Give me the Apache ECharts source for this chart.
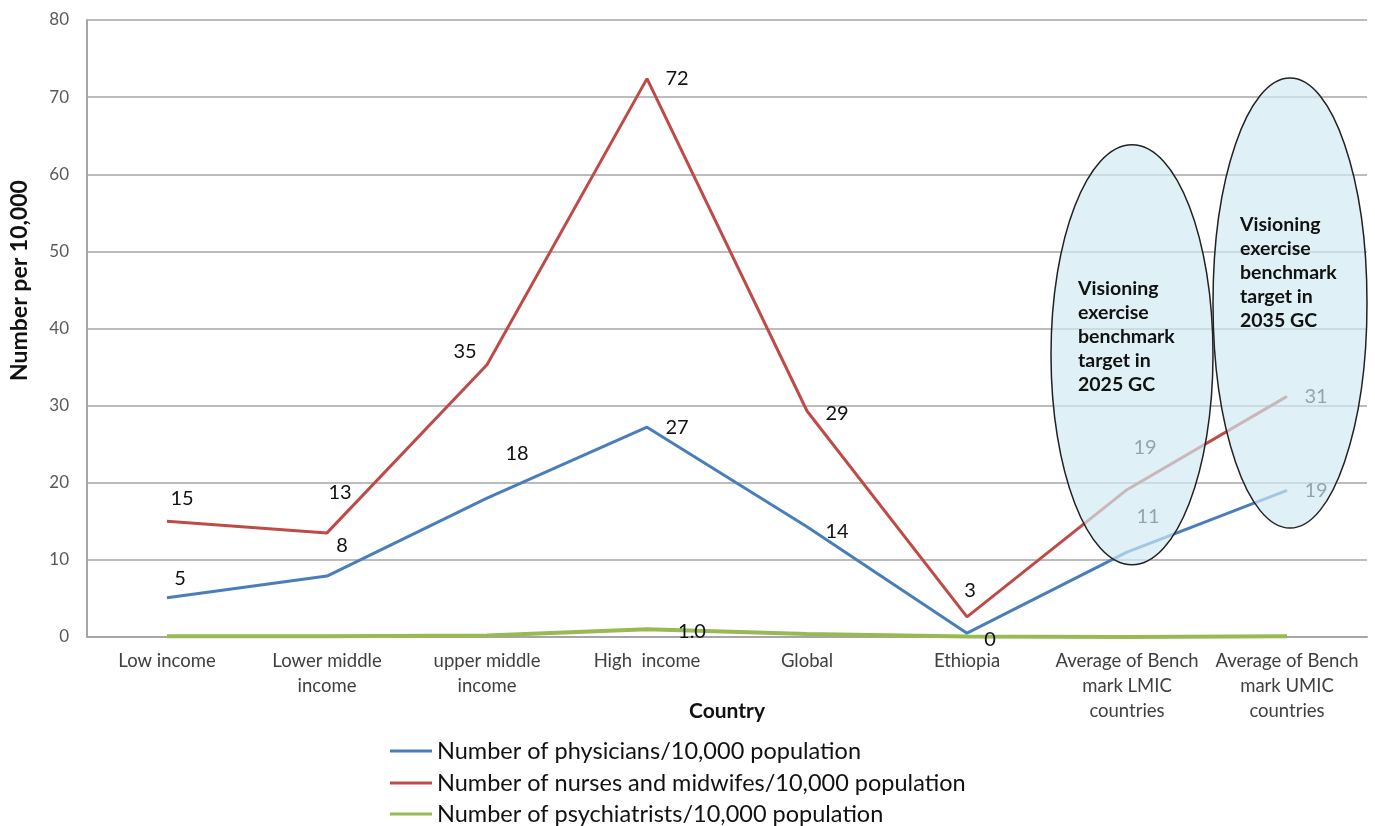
<!DOCTYPE html>
<html>
<head>
<meta charset="utf-8">
<script src="https://cdn.jsdelivr.net/npm/echarts@6/dist/echarts.min.js"></script>
<style>
html,body{margin:0;padding:0;background:#fff;}
#chart{width:1375px;height:826px;}
</style>
</head>
<body>
<div id="chart"></div>
<script>
const categories = ['Low income', 'Lower middle\nincome', 'upper middle\nincome', 'High  income', 'Global', 'Ethiopia', 'Average of Bench\nmark LMIC\ncountries', 'Average of Bench\nmark UMIC\ncountries'];
const physicians = [5.1, 7.9, 18.0, 27.2, 14.3, 0.5, 11.0, 19.0];
const nurses = [15.0, 13.5, 35.3, 72.4, 29.3, 2.6, 19.1, 31.2];
const psychiatrists = [0.1, 0.1, 0.2, 1.0, 0.4, 0.05, 0.0, 0.1];
const physLabels = ['5', '8', '18', '27', '14', '0', '11', '19'];
const nurseLabels = ['15', '13', '35', '72', '29', '3', '19', '31'];
const psychLabels = ['', '', '', '1.0', '', '', '', ''];
const yTicks = [0, 10, 20, 30, 40, 50, 60, 70, 80];
const seriesNames = ['Number of physicians/10,000 population', 'Number of nurses and midwifes/10,000 population', 'Number of psychiatrists/10,000 population'];
const ellipseText1 = 'Visioning\nexercise\nbenchmark\ntarget in\n2025 GC';
const ellipseText2 = 'Visioning\nexercise\nbenchmark\ntarget in\n2035 GC';

// label offsets (presentation only)
const physOff = [[13,-19],[15,-31],[30,-45],[30,0],[30,5],[23,6],[21,-36],[29,0]];
const nurseOff = [[15,-23],[13,-40],[-22,-13],[30,0],[30,3],[3,-26],[18,-42],[29,0]];
const psychOff = [[0,0],[0,0],[0,0],[45,2],[0,0],[0,0],[0,0],[0,0]];

const FONT = 'Lato, "Open Sans", sans-serif';

function mkData(vals, labels, offs) {
  return vals.map((v, i) => ({
    value: v,
    label: {show: labels[i] !== '', formatter: labels[i], offset: offs[i]}
  }));
}

const chart = echarts.init(document.getElementById('chart'));
function mkSeries(name, vals, labels, offs, color, width) {
  return {
    name: name, type: 'line', data: mkData(vals, labels, offs),
    symbol: 'circle', symbolSize: 0.5, showSymbol: true,
    itemStyle: {color: color},
    lineStyle: {color: color, width: width},
    label: {position: 'inside', color: '#111', fontSize: 20, fontFamily: FONT, align: 'center', verticalAlign: 'middle'},
    emphasis: {disabled: true}, animation: false, z: 2
  };
}
function mkLegend(name, top) {
  return {
    orient: 'vertical', left: 390, top: top, padding: 0,
    itemWidth: 42, itemHeight: 3, icon: 'rect',
    textStyle: {fontFamily: FONT, fontSize: 23.5, color: '#111'},
    data: [name]
  };
}
chart.setOption({
  animation: false,
  grid: {left: 85, right: 8, top: 20, bottom: 189},
  xAxis: {
    type: 'category', data: categories, boundaryGap: true,
    name: 'Country', nameLocation: 'middle', nameGap: 64, nameMoveOverlap: false,
    nameTextStyle: {fontFamily: FONT, fontWeight: 'bold', fontSize: 21, color: '#111'},
    axisLine: {lineStyle: {color: '#a6a6a6', width: 2}},
    axisTick: {show: false},
    axisLabel: {interval: 0, fontFamily: FONT, fontSize: 18.5, color: '#404040', lineHeight: 25, margin: 12}
  },
  yAxis: {
    type: 'value', min: 0, max: 80, interval: 10,
    name: 'Number per 10,000', nameLocation: 'middle', nameGap: 56, nameRotate: 90,
    nameTextStyle: {fontFamily: FONT, fontWeight: 'bold', fontSize: 23, color: '#111', padding: [0, 0, 0, 96]},
    axisLine: {show: true, lineStyle: {color: '#a6a6a6', width: 2}},
    axisTick: {show: false},
    axisLabel: {fontFamily: FONT, fontSize: 17, color: '#595959', margin: 18,
      formatter: v => yTicks.includes(v) ? String(v) : ''},
    splitLine: {lineStyle: {color: '#a6a6a6', width: 1.5}}
  },
  legend: [
    mkLegend(seriesNames[0], 739),
    mkLegend(seriesNames[1], 771),
    mkLegend(seriesNames[2], 802)
  ],
  series: [
    mkSeries(seriesNames[0], physicians, physLabels, physOff, '#4a7ebb', 3),
    mkSeries(seriesNames[1], nurses, nurseLabels, nurseOff, '#be4b48', 3),
    mkSeries(seriesNames[2], psychiatrists, psychLabels, psychOff, '#98b954', 4)
  ]
});

function placeGraphics() {
  const p6 = chart.convertToPixel({seriesIndex: 0}, [6, 36.6]);
  const p7 = chart.convertToPixel({seriesIndex: 0}, [7, 43.3]);
  const style = {fill: 'rgba(208,234,241,0.68)', stroke: '#222', lineWidth: 1.5};
  const tStyle = {fill: '#111', fontFamily: FONT, fontWeight: 'bold', fontSize: 19.5, lineHeight: 24};
  chart.setOption({
    graphic: [
      {type: 'ellipse', shape: {cx: p6[0] + 5, cy: p6[1], rx: 81, ry: 210}, style: style, z: 10},
      {type: 'ellipse', shape: {cx: p7[0] + 3, cy: p7[1], rx: 77, ry: 225}, style: style, z: 10},
      {type: 'text', left: p6[0] - 49, top: 277, style: Object.assign({text: ellipseText1}, tStyle), z: 11},
      {type: 'text', left: p7[0] - 47, top: 213, style: Object.assign({text: ellipseText2}, tStyle), z: 11}
    ]
  });
}
placeGraphics();
</script>
</body>
</html>
